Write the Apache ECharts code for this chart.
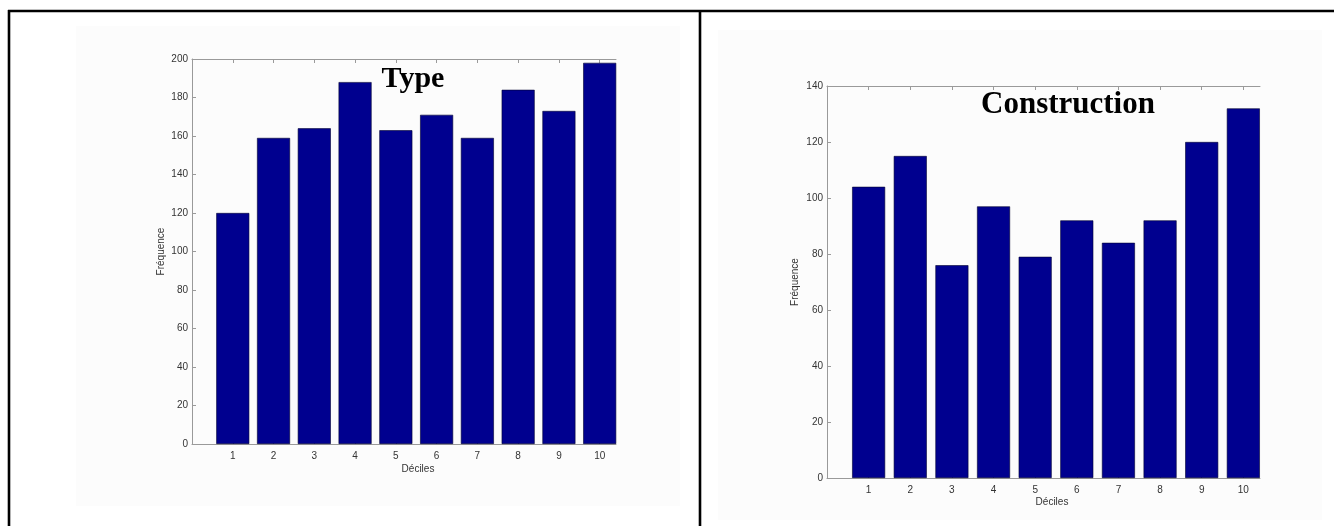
<!DOCTYPE html>
<html>
<head>
<meta charset="utf-8">
<script src="https://cdn.jsdelivr.net/npm/echarts@6/dist/echarts.min.js"></script>
<style>
  html, body { margin: 0; padding: 0; background: #ffffff; }
  #chart { width: 1334px; height: 526px; }
</style>
</head>
<body>
<div id="chart"></div>
<script>
// Decile categories shared by both histograms
const deciles = [1, 2, 3, 4, 5, 6, 7, 8, 9, 10];

// Frequencies per decile
const typeCounts = [120, 159, 164, 188, 163, 171, 159, 184, 173, 198];
const constructionCounts = [104, 115, 76, 97, 79, 92, 84, 92, 120, 132];

// Y tick values
const typeTicks = [0, 20, 40, 60, 80, 100, 120, 140, 160, 180, 200];
const constructionTicks = [0, 20, 40, 60, 80, 100, 120, 140];

const panelTitles = ['Type', 'Construction'];
const xName = 'Déciles';
const yName = 'Fréquence';

const barColor = '#00008f';
const axisColor = '#9a9a9a';
const labelColor = '#333333';
const labelFont = 'Liberation Sans, Arial, sans-serif';

const chart = echarts.init(document.getElementById('chart'), null, { renderer: 'canvas' });

const grids = [
  { left: 192, top: 59, width: 424, height: 385 },
  { left: 827, top: 86, width: 433, height: 392 }
];

function pairs(values) {
  return deciles.map((d, i) => [d, values[i]]);
}

function bottomX(gridIndex) {
  return {
    type: 'value', gridIndex, position: 'bottom',
    min: 0, max: 10.4, interval: 1,
    splitLine: { show: false },
    axisLine: { show: true, onZero: false, lineStyle: { color: axisColor, width: 1 } },
    axisTick: { show: true, inside: true, length: 4, customValues: deciles, lineStyle: { color: axisColor } },
    axisLabel: { show: true, customValues: deciles, color: labelColor, fontSize: 10, fontFamily: labelFont, margin: 7 }
  };
}

function topX(gridIndex) {
  return {
    type: 'value', gridIndex, position: 'top',
    min: 0, max: 10.4, interval: 1,
    splitLine: { show: false },
    axisLine: { show: true, onZero: false, lineStyle: { color: axisColor, width: 1 } },
    axisTick: { show: true, inside: true, length: 4, customValues: deciles, lineStyle: { color: axisColor } },
    axisLabel: { show: false }
  };
}

function leftY(gridIndex, ticks, gap) {
  return {
    type: 'value', gridIndex,
    min: ticks[0], max: ticks[ticks.length - 1], interval: ticks[1] - ticks[0],
    splitLine: { show: false },
    axisLine: { show: true, lineStyle: { color: axisColor, width: 1 } },
    axisTick: { show: true, inside: true, length: 4, lineStyle: { color: axisColor } },
    axisLabel: { color: labelColor, fontSize: 10, fontFamily: labelFont, margin: 4 },
    name: yName, nameLocation: 'middle', nameGap: gap,
    nameTextStyle: { color: labelColor, fontSize: 10, fontFamily: labelFont }
  };
}

function barSeries(axisIndex, values, width) {
  return {
    type: 'bar', xAxisIndex: axisIndex, yAxisIndex: axisIndex,
    data: pairs(values), barWidth: width,
    itemStyle: { color: barColor, borderColor: '#000030', borderWidth: 0.6 },
    silent: true, animation: false
  };
}

// Frame lines of the two-cell table
const frame = [
  { type: 'line', shape: { x1: 8, y1: 11, x2: 1334, y2: 11 } },
  { type: 'line', shape: { x1: 9, y1: 10, x2: 9, y2: 526 } },
  { type: 'line', shape: { x1: 700, y1: 10, x2: 700, y2: 526 } }
].map(l => Object.assign(l, { style: { stroke: '#000', lineWidth: 2.6 }, z: 10 }));

const graphic = [
  // faint figure backgrounds
  { type: 'rect', shape: { x: 76, y: 26, width: 604, height: 480 }, style: { fill: '#fcfcfc' }, z: -1 },
  { type: 'rect', shape: { x: 718, y: 30, width: 604, height: 490 }, style: { fill: '#fcfcfc' }, z: -1 },
  ...frame,
  { type: 'text', x: 413, y: 79, z: 20,
    style: { text: panelTitles[0], align: 'center', verticalAlign: 'middle',
      font: 'bold 30px "Liberation Serif", "Times New Roman", serif', fill: '#000' } },
  { type: 'text', x: 1068, y: 105, z: 20,
    style: { text: panelTitles[1], align: 'center', verticalAlign: 'middle',
      font: 'bold 31px "Liberation Serif", "Times New Roman", serif', fill: '#000' } },
  { type: 'text', x: 418, y: 469,
    style: { text: xName, align: 'center', verticalAlign: 'middle',
      font: '10px ' + labelFont, fill: labelColor } },
  { type: 'text', x: 1052, y: 502,
    style: { text: xName, align: 'center', verticalAlign: 'middle',
      font: '10px ' + labelFont, fill: labelColor } }
];

chart.setOption({
  animation: false,
  backgroundColor: '#ffffff',
  grid: grids,
  xAxis: [bottomX(0), bottomX(1), topX(0), topX(1)],
  yAxis: [leftY(0, typeTicks, 26), leftY(1, constructionTicks, 27)],
  series: [
    barSeries(0, typeCounts, 33),
    barSeries(1, constructionCounts, 33)
  ],
  graphic
});
</script>
</body>
</html>
